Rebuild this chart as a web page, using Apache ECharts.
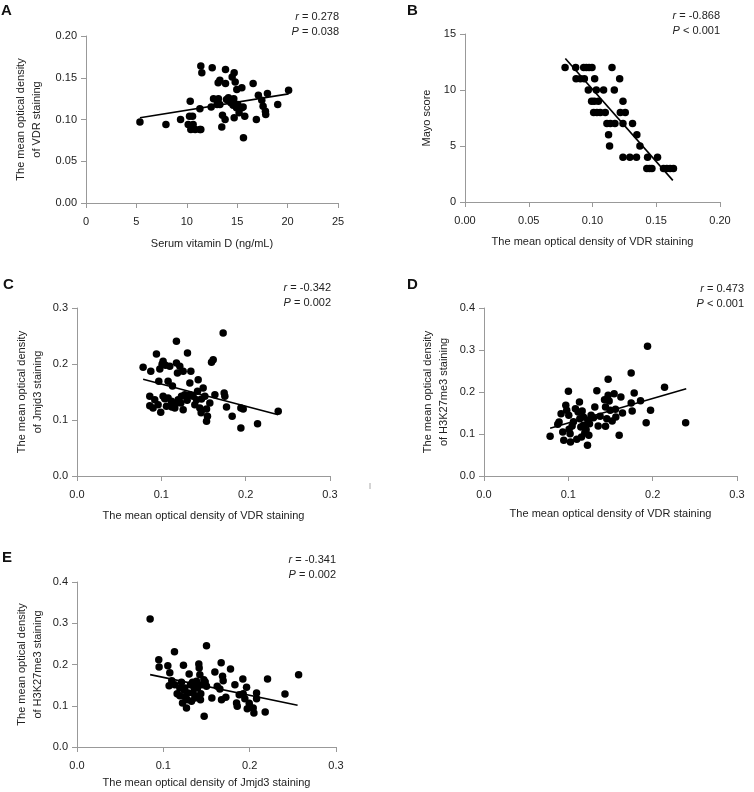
<!DOCTYPE html>
<html>
<head>
<meta charset="utf-8">
<title>VDR scatter panels</title>
<script src="https://cdn.jsdelivr.net/npm/echarts@6/dist/echarts.min.js"></script>
<style>
  html, body { margin: 0; padding: 0; background: #fff; }
  #chart { width: 754px; height: 792px; }
</style>
</head>
<body>
<div id="chart"></div>
<script>
// ---- A: serum vitamin D vs VDR staining ----
var xA = [5.35, 7.93, 9.38, 10.27, 10.34, 10.57, 10.14, 10.63, 10.4, 10.83, 11.3, 11.39, 11.3, 11.39, 11.49,
  12.52, 12.42, 12.65, 13.14, 13.28, 13.11, 13.28, 13.84, 13.84, 13.54, 13.8, 13.47, 13.94, 14.13, 14.5,
  14.7, 14.8, 14.66, 14.37, 14.6, 14.7, 14.96, 15.46, 15.19, 15.46, 15.75, 15.62, 15.06, 16.58, 17.1,
  16.9, 17.44, 17.57, 17.8, 18.0, 17.83, 19.02, 20.1, 13.0, 14.93, 15.59];
var yA = [0.097, 0.094, 0.100, 0.104, 0.122, 0.104, 0.094, 0.094, 0.088, 0.088, 0.088, 0.088, 0.113, 0.164, 0.156,
  0.162, 0.115, 0.125, 0.125, 0.118, 0.144, 0.147, 0.143, 0.160, 0.105, 0.100, 0.091, 0.124, 0.126, 0.151,
  0.156, 0.145, 0.125, 0.120, 0.117, 0.102, 0.136, 0.138, 0.108, 0.114, 0.104, 0.078, 0.118, 0.143, 0.129,
  0.100, 0.123, 0.116, 0.110, 0.131, 0.106, 0.118, 0.135, 0.118, 0.114, 0.115];
var fitA = [[5.35, 0.102], [20.1, 0.1307]];

// ---- B: VDR staining vs Mayo score ----
var xB = [0.0785, 0.0868, 0.0931, 0.0952, 0.0973, 0.0996, 0.1153,
  0.0871, 0.0905, 0.0936, 0.1017, 0.1213,
  0.0967, 0.103, 0.1087, 0.1171,
  0.0993, 0.1014, 0.1046, 0.1239,
  0.1009, 0.1035, 0.1061, 0.11, 0.1218, 0.1257,
  0.1113, 0.114, 0.1176, 0.1239, 0.1314,
  0.1126, 0.1348,
  0.1134, 0.1372,
  0.1239, 0.1293, 0.1345, 0.1432, 0.151,
  0.1426, 0.1447, 0.1466, 0.1557, 0.1583, 0.1609, 0.1635];
var yB = [12, 12, 12, 12, 12, 12, 12,
  11, 11, 11, 11, 11,
  10, 10, 10, 10,
  9, 9, 9, 9,
  8, 8, 8, 8, 8, 8,
  7, 7, 7, 7, 7,
  6, 6,
  5, 5,
  4, 4, 4, 4, 4,
  3, 3, 3, 3, 3, 3, 3];
var fitB = [[0.0787, 12.81], [0.163, 1.93]];

// ---- C: VDR staining vs Jmjd3 staining ----
var xC = [0.0784, 0.0875, 0.0942, 0.0982, 0.1021, 0.1049, 0.0970, 0.1080, 0.1100, 0.1179, 0.1219, 0.1191,
  0.1179, 0.1310, 0.1259, 0.1338, 0.1350, 0.1437, 0.1496, 0.1429, 0.1615, 0.1595, 0.1733, 0.0863, 0.0922,
  0.0863, 0.0902, 0.0993, 0.0962, 0.1021, 0.1080, 0.1120, 0.1061, 0.1160, 0.1199, 0.1231, 0.1259, 0.1278,
  0.1338, 0.1377, 0.1417, 0.1397, 0.1476, 0.1516, 0.1456, 0.1536, 0.1547, 0.1536, 0.1575, 0.1635, 0.1745,
  0.1753, 0.1773, 0.1840, 0.1943, 0.1971, 0.1943, 0.2141, 0.2386, 0.1132, 0.1168, 0.1124, 0.1239, 0.1472,
  0.1306, 0.1041, 0.1009];
var yC = [0.1940, 0.1869, 0.2179, 0.1911, 0.2048, 0.1976, 0.1690, 0.1690, 0.1958, 0.2018, 0.1958, 0.1839,
  0.2405, 0.2196, 0.1869, 0.1661, 0.1869, 0.1720, 0.1571, 0.1512, 0.2077, 0.2030, 0.2554, 0.1423, 0.1363,
  0.1256, 0.1214, 0.1137, 0.1274, 0.1423, 0.1393, 0.1333, 0.1244, 0.1214, 0.1363, 0.1304, 0.1185, 0.1452,
  0.1452, 0.1423, 0.1363, 0.1274, 0.1375, 0.1423, 0.1214, 0.1196, 0.1065, 0.0976, 0.1304, 0.1452, 0.1482,
  0.1423, 0.1232, 0.1065, 0.1214, 0.1196, 0.0857, 0.0935, 0.1155, 0.1607, 0.1292, 0.1232, 0.1423, 0.1131,
  0.1351, 0.1381, 0.1994];
var fitC = [[0.0784, 0.1726], [0.2386, 0.1095]];

// ---- D: VDR staining vs H3K27me3 staining ----
var xD = [0.0784, 0.0875, 0.089, 0.0914, 0.0934, 0.0946, 0.097, 0.0981, 0.1001, 0.1005, 0.1009, 0.1021,
  0.1025, 0.1045, 0.1061, 0.1084, 0.11, 0.1116, 0.1132, 0.1136, 0.1148, 0.1156, 0.1164, 0.1179, 0.1179,
  0.1195, 0.1211, 0.1227, 0.1231, 0.1251, 0.1243, 0.127, 0.1298, 0.1314, 0.1338, 0.1354, 0.1377, 0.1429,
  0.1441, 0.1441, 0.1456, 0.1472, 0.1472, 0.1484, 0.1496, 0.152, 0.1543, 0.1559, 0.1563, 0.1603, 0.1623,
  0.1642, 0.1745, 0.1745, 0.1757, 0.1781, 0.1856, 0.1923, 0.1939, 0.1975, 0.2141, 0.2391];
var yD = [0.0944, 0.123, 0.1286, 0.1484, 0.1048, 0.0849, 0.1683, 0.1563, 0.2016, 0.1444, 0.1111, 0.1008,
  0.081, 0.119, 0.1294, 0.1603, 0.0873, 0.1524, 0.1762, 0.1365, 0.1167, 0.0929, 0.1548, 0.1405, 0.1206,
  0.1024, 0.1103, 0.073, 0.1325, 0.1246, 0.0968, 0.1444, 0.1389, 0.1643, 0.2032, 0.119, 0.1421, 0.1817,
  0.1183, 0.1643, 0.1365, 0.2302, 0.1921, 0.1786, 0.1563, 0.131, 0.196, 0.1587, 0.1405, 0.0968, 0.1881,
  0.15, 0.2452, 0.1738, 0.1548, 0.1976, 0.1794, 0.127, 0.3087, 0.1563, 0.2111, 0.127];
var fitD = [[0.0784, 0.1135], [0.2398, 0.2079]];

// ---- E: Jmjd3 staining vs H3K27me3 staining ----
var xE = [0.0847, 0.0947, 0.0951, 0.1052, 0.1075, 0.1067, 0.1098, 0.1129, 0.1133, 0.116, 0.1191, 0.121,
  0.1222, 0.1233, 0.1241, 0.1253, 0.1268, 0.1276, 0.1299, 0.1314, 0.1338, 0.1345, 0.1365, 0.1396, 0.1411,
  0.1415, 0.1423, 0.143, 0.1434, 0.145, 0.1473, 0.1469, 0.1485, 0.15, 0.1562, 0.1597, 0.1624, 0.1655,
  0.167, 0.1686, 0.1693, 0.1674, 0.1724, 0.1778, 0.1829, 0.1848, 0.1856, 0.1879, 0.1921, 0.1925, 0.1964,
  0.1944, 0.1972, 0.1995, 0.2003, 0.2041, 0.2049, 0.208, 0.208, 0.218, 0.2207, 0.2409, 0.2567,
  0.1191, 0.1249, 0.1326, 0.1384, 0.1357, 0.1287, 0.15, 0.1384];
var yE = [0.3103, 0.2117, 0.1939, 0.1972, 0.1802, 0.1487, 0.1608, 0.2311, 0.1511, 0.1293, 0.1244, 0.1568,
  0.1067, 0.198, 0.1374, 0.1212, 0.0945, 0.1147, 0.177, 0.1511, 0.1568, 0.1309, 0.1188, 0.143, 0.2012,
  0.1915, 0.1754, 0.1147, 0.1293, 0.1511, 0.0743, 0.1632, 0.1576, 0.2457, 0.1188, 0.1818, 0.1471, 0.1406,
  0.2044, 0.1713, 0.1608, 0.1147, 0.1204, 0.1891, 0.1511, 0.1067, 0.0986, 0.1269, 0.1648, 0.1293, 0.1446,
  0.1172, 0.0929, 0.1059, 0.097, 0.0945, 0.0824, 0.1309, 0.1172, 0.0848, 0.1648, 0.1285, 0.1754,
  0.143, 0.143, 0.1107, 0.1228, 0.143, 0.1309, 0.147, 0.1592];
var fitE = [[0.0847, 0.1754], [0.2555, 0.101]];

// r / P labels per panel
var rVals = ['0.278', '-0.868', '-0.342', '0.473', '-0.341'];
var pVals = ['= 0.038', '< 0.001', '= 0.002', '< 0.001', '= 0.002'];
var panelLetters = ['A', 'B', 'C', 'D', 'E'];

var FONT = 'Liberation Sans';
var TXT = '#222';

function pairs(xs, ys) {
  return xs.map(function (x, i) { return [x, ys[i]]; });
}

// 坐标轴通用设置
function makeAxis(idx, min, max, interval, digits, name, nameGap, isY) {
  return {
    gridIndex: idx,
    type: 'value',
    min: min, max: max, interval: interval,
    splitLine: { show: false },
    axisLine: { show: true, lineStyle: { color: '#999', width: 1 } },
    axisTick: { show: true, length: 5, lineStyle: { color: '#999' } },
    axisLabel: {
      color: TXT, fontFamily: FONT, fontSize: 11,
      margin: isY ? 9 : 13,
      formatter: function (v) { return v.toFixed(digits); }
    },
    name: name,
    nameLocation: 'middle',
    nameGap: nameGap,
    nameTextStyle: { color: TXT, fontFamily: FONT, fontSize: 11, lineHeight: 16 }
  };
}

var grids = [
  { left: 86, top: 36, width: 252, height: 167 },
  { left: 465, top: 34, width: 255, height: 168 },
  { left: 77, top: 308, width: 253, height: 168 },
  { left: 484, top: 308, width: 253, height: 168 },
  { left: 77, top: 582, width: 259, height: 165 }
];

var xAxes = [
  makeAxis(0, 0, 25, 5, 0, 'Serum vitamin D (ng/mL)', 33, false),
  makeAxis(1, 0, 0.2, 0.05, 2, 'The mean optical density of VDR staining', 32, false),
  makeAxis(2, 0, 0.3, 0.1, 1, 'The mean optical density of VDR staining', 32, false),
  makeAxis(3, 0, 0.3, 0.1, 1, 'The mean optical density of VDR staining', 30, false),
  makeAxis(4, 0, 0.3, 0.1, 1, 'The mean optical density of Jmjd3 staining', 28, false)
];
var yAxes = [
  makeAxis(0, 0, 0.2, 0.05, 2, 'The mean optical density\nof VDR staining', 41, true),
  makeAxis(1, 0, 15, 5, 0, 'Mayo score', 30, true),
  makeAxis(2, 0, 0.3, 0.1, 1, 'The mean optical density\nof Jmjd3 staining', 31, true),
  makeAxis(3, 0, 0.4, 0.1, 1, 'The mean optical density\nof H3K27me3 staining', 32, true),
  makeAxis(4, 0, 0.4, 0.1, 1, 'The mean optical density\nof H3K27me3 staining', 31, true)
];

var pointSets = [pairs(xA, yA), pairs(xB, yB), pairs(xC, yC), pairs(xD, yD), pairs(xE, yE)];
var fits = [fitA, fitB, fitC, fitD, fitE];

var series = [];
pointSets.forEach(function (pts, i) {
  series.push({
    type: 'scatter', xAxisIndex: i, yAxisIndex: i,
    data: pts, symbolSize: 7.5,
    itemStyle: { color: '#000', opacity: 1 },
    silent: true
  });
  series.push({
    type: 'line', xAxisIndex: i, yAxisIndex: i,
    data: fits[i], symbol: 'none',
    lineStyle: { color: '#000', width: 1.6 },
    silent: true
  });
});

// 面板字母和 r/P 标注位置
var letterPos = [[1, 3], [407, 3], [3, 277], [407, 277], [2, 550]];
var statPos = [[339, 24], [720, 23], [331, 295], [744, 296], [336, 567]];

var graphics = [];
panelLetters.forEach(function (l, i) {
  graphics.push({
    type: 'text', left: letterPos[i][0], top: letterPos[i][1],
    style: { text: l, fill: '#111', font: 'bold 15px "' + FONT + '"' }
  });
  graphics.push({
    type: 'text', x: statPos[i][0], y: statPos[i][1],
    style: {
      text: '{i|r} = ' + rVals[i] + '\n{i|P} ' + pVals[i],
      align: 'right', verticalAlign: 'middle',
      fill: TXT, fontFamily: FONT, fontSize: 11, lineHeight: 15,
      rich: { i: { fontStyle: 'italic', fontFamily: FONT, fontSize: 11, fill: TXT } }
    }
  });
});
// stray tick mark in the original figure
graphics.push({
  type: 'line', shape: { x1: 370, y1: 483, x2: 370, y2: 489 },
  style: { stroke: '#aaa', lineWidth: 1 }
});

var myChart = echarts.init(document.getElementById('chart'), null, { renderer: 'canvas' });
myChart.setOption({
  backgroundColor: '#fff',
  animation: false,
  grid: grids,
  xAxis: xAxes,
  yAxis: yAxes,
  series: series,
  graphic: graphics
});
</script>
</body>
</html>
